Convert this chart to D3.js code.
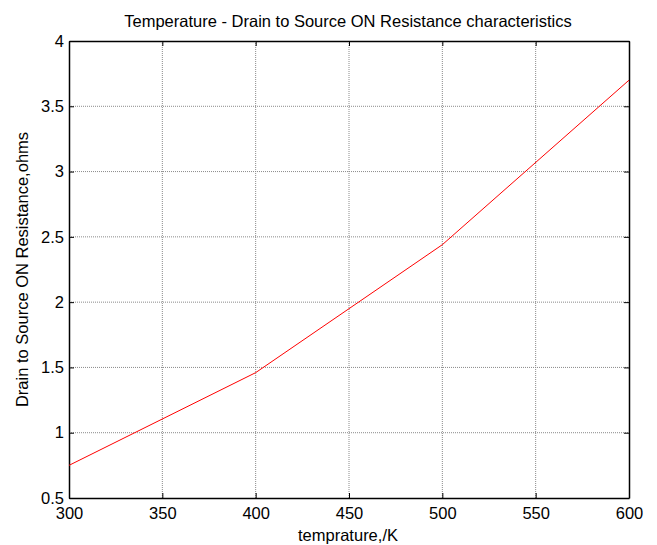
<!DOCTYPE html>
<html lang="en">
<head>
<meta charset="UTF-8">
<title>Temperature - Drain to Source ON Resistance characteristics</title>
<script src="https://d3js.org/d3.v7.min.js"></script>
<style>
    body { margin: 0; background: #fff; }
    svg text { font-family: Arial, "Liberation Sans", sans-serif; fill: #000; }
</style>
</head>
<body>
<svg id="chart" width="657" height="545"></svg>
<script>
    // Data
    const temps = [300, 400, 500, 600];
    const resistance = [0.75, 1.46, 2.44, 3.70];
    const xTicks = [300, 350, 400, 450, 500, 550, 600];
    const yTicks = [0.5, 1, 1.5, 2, 2.5, 3, 3.5, 4];

    const svg = d3.select('#chart');
    const plotL = 69, plotR = 629, plotT = 41, plotB = 498;

    const x = d3.scaleLinear().domain([300, 600]).range([plotL, plotR]);
    const y = d3.scaleLinear().domain([0.5, 4]).range([plotB, plotT]);

    // grid
    const grid = svg.append('g');
    grid.selectAll('.gx').data(xTicks.slice(1, -1)).enter().append('line')
        .attr('x1', d => x(d)).attr('x2', d => x(d))
        .attr('y1', plotT).attr('y2', plotB)
        .attr('stroke', '#8a8a8a').attr('stroke-dasharray', '1,1').attr('stroke-width', 1);
    grid.selectAll('.gy').data(yTicks.slice(1, -1)).enter().append('line')
        .attr('y1', d => y(d)).attr('y2', d => y(d))
        .attr('x1', plotL).attr('x2', plotR)
        .attr('stroke', '#8a8a8a').attr('stroke-dasharray', '1,1').attr('stroke-width', 1);

    // axes (ticks inside, on all sides)
    const fmt = d => d;
    svg.append('g').attr('transform', `translate(0,${plotB})`)
        .call(d3.axisBottom(x).tickValues(xTicks).tickSizeInner(-5).tickSizeOuter(0).tickPadding(9).tickFormat(fmt));
    svg.append('g').attr('transform', `translate(0,${plotT})`)
        .call(d3.axisTop(x).tickValues(xTicks).tickSizeInner(-5).tickSizeOuter(0).tickFormat(''));
    svg.append('g').attr('transform', `translate(${plotL},0)`)
        .call(d3.axisLeft(y).tickValues(yTicks).tickSizeInner(-5).tickSizeOuter(0).tickPadding(5).tickFormat(fmt));
    svg.append('g').attr('transform', `translate(${plotR},0)`)
        .call(d3.axisRight(y).tickValues(yTicks).tickSizeInner(-5).tickSizeOuter(0).tickFormat(''));

    svg.selectAll('.domain').attr('stroke', '#000').attr('stroke-width', 1.5);
    svg.selectAll('.tick line').attr('stroke', '#000');
    svg.selectAll('.tick text').style('font-size', '16.5px');

    // data line
    const pts = temps.map((t, i) => [t, resistance[i]]);
    svg.append('path')
        .datum(pts)
        .attr('fill', 'none')
        .attr('stroke', '#ff0000')
        .attr('stroke-width', 1)
        .attr('d', d3.line().x(d => x(d[0])).y(d => y(d[1])));

    // labels
    svg.append('text').attr('x', 348).attr('y', 27)
        .attr('text-anchor', 'middle').style('font-size', '16.5px')
        .text('Temperature - Drain to Source ON Resistance characteristics');
    svg.append('text').attr('x', 348).attr('y', 541)
        .attr('text-anchor', 'middle').style('font-size', '16.5px')
        .text('temprature,/K');
    svg.append('text')
        .attr('transform', `translate(28,${(plotT + plotB) / 2}) rotate(-90)`)
        .attr('text-anchor', 'middle').style('font-size', '16.5px')
        .text('Drain to Source ON Resistance,ohms');
</script>
</body>
</html>
